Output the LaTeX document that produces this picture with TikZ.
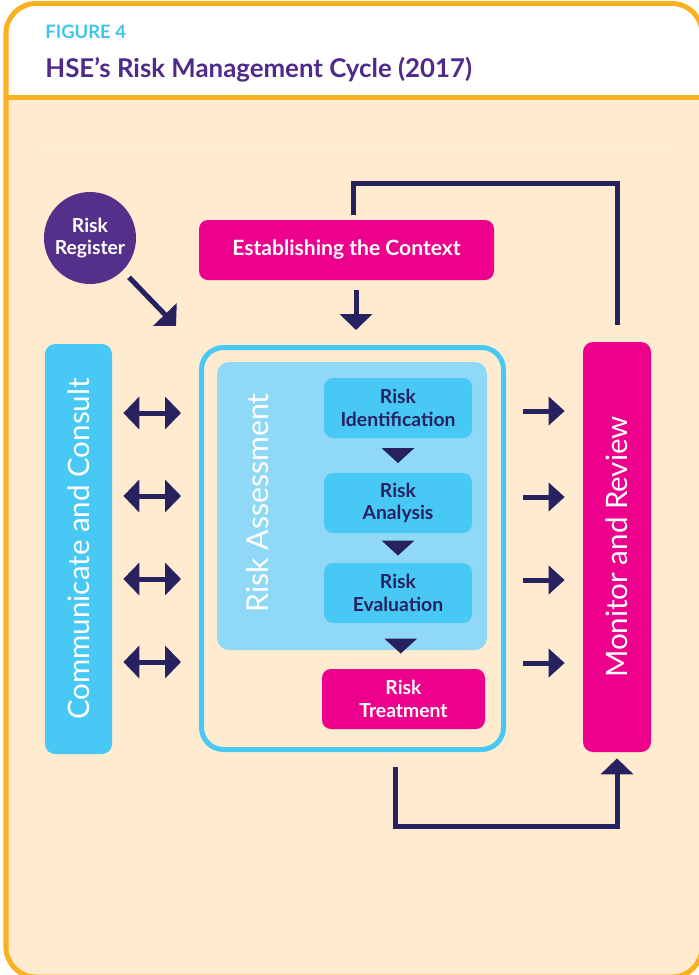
\documentclass[tikz,border=0pt]{standalone}
\usepackage{fontspec}
\setmainfont{Lato}
\usetikzlibrary{arrows.meta,calc,positioning}
\definecolor{frameorange}{HTML}{FBB01F}
\definecolor{cream}{HTML}{FFEBD0}
\definecolor{hsecyan}{HTML}{48C9F5}
\definecolor{hselight}{HTML}{8FD9F7}
\definecolor{hsemagenta}{HTML}{EC008C}
\definecolor{hsepurple}{HTML}{54308B}
\definecolor{hsenavy}{HTML}{27215F}
\definecolor{titlepurple}{HTML}{4F2A8A}
\definecolor{figcyan}{HTML}{3FC5F0}
\newdimen\pxu \pxu=0.02cm

\begin{document}
\begin{tikzpicture}[line cap=butt,line join=miter,x=0.02cm,y=-0.02cm,
  box/.style={rounded corners=9\pxu, inner sep=0pt, align=center,
    font=\bfseries\fontsize{11}{13}\selectfont},
  stepbox/.style={box, fill=hsecyan, text=hsenavy, minimum width=148\pxu, minimum height=60\pxu},
  pinkbox/.style={box, fill=hsemagenta, text=white},
  sidebar/.style={rounded corners=10\pxu, inner sep=0pt, text=white, rotate=90,
    minimum width=410\pxu, font=\fontsize{16.8}{18}\selectfont},
  lnk/.style={draw=hsenavy, line width=0.1cm},
  arr/.style={lnk, -{Triangle[width=0.64cm,length=0.32cm]}},
  rarr/.style={lnk, -{Triangle[width=0.56cm,length=0.32cm]}},
  dbl/.style={lnk, {Triangle[width=0.64cm,length=0.32cm]}-{Triangle[width=0.64cm,length=0.32cm]}}]
\useasboundingbox (0,0) rectangle (698,975);

% frame and header
\fill[cream, rounded corners=30\pxu] (6,3.5) rectangle (702,977);
\fill[white, rounded corners=30\pxu] (6,3.5) rectangle (702,150);
\fill[cream] (6,97.5) rectangle (702,150);
\draw[frameorange, line width=5\pxu, rounded corners=30\pxu] (6,3.5) rectangle (702,977);
\draw[frameorange, line width=5\pxu] (6,97.5) -- (702,97.5);
\node[anchor=base west, inner sep=0pt, text=figcyan, font=\bfseries\fontsize{10.5}{12}\selectfont] (fig) at (45,38) {FIGURE 4};
\node[anchor=base west, inner sep=0pt, text=titlepurple, font=\bfseries\fontsize{14.7}{16}\selectfont] (title) at (45,77) {HSE’s Risk Management Cycle (2017)};

% boxes
\node[circle, fill=hsepurple, text=white, minimum size=92\pxu, inner sep=0pt, align=center,
  font=\bfseries\fontsize{11}{13}\selectfont] (reg) at (90,238) {Risk\\Register};
\node[pinkbox, minimum width=295\pxu, minimum height=60\pxu, font=\bfseries\fontsize{12}{14}\selectfont] (ctx) at (346.5,250) {Establishing the Context};
\node[sidebar, fill=hsecyan, minimum height=67\pxu] (comm) at (78.5,549) {Communicate and Consult};
\node[sidebar, fill=hsemagenta, minimum height=68\pxu] (mon) at (617,547) {Monitor and Review};
\node[draw=hsecyan, line width=5\pxu, rounded corners=22\pxu, minimum width=302\pxu,
  minimum height=402\pxu, inner sep=0pt] (ra) at (352.5,548.5) {};
\node[fill=hselight, rounded corners=12\pxu, minimum width=270\pxu, minimum height=288\pxu,
  inner sep=0pt] (rain) at (352,506) {};
\node[rotate=90, text=white, inner sep=0pt, font=\fontsize{17.2}{18}\selectfont] (ras) at (257,503) {Risk Assessment};
\node[stepbox] (rid) at (398,408) {Risk\\Identification};
\node[stepbox] (ran) at (398,503) {Risk\\Analysis};
\node[stepbox] (rev) at (398,593) {Risk\\Evaluation};
\node[pinkbox, minimum width=163\pxu, minimum height=60\pxu] (rtr) at (403.5,699) {Risk\\Treatment};

% connectors
\coordinate (regtip) at (176,326);
\coordinate (ctxtip) at (356,330);
\coordinate (topl) at (353,215);
\coordinate (topr) at (617,183);
\coordinate (botl) at (395,826);
\coordinate (botr) at (617,826);
\draw[arr, shorten <=0.18cm] (reg.-45) -- (regtip);
\draw[arr] (ctxtip |- ctx.south) ++(0,10) -- (ctxtip);
\draw[lnk, shorten >=0.34cm] (topl) |- (topr) -- (mon.east);
\draw[arr, shorten <=0.3cm, shorten >=0.12cm] (botl |- ra.south) -- (botl) -- (botr) -- (mon.west);
\foreach \y in {413,496,579,662} {
  \coordinate (lev) at (0,\y);
  \draw[dbl, shorten <=0.22cm, shorten >=0.36cm] (comm.south |- lev) -- (ra.west |- lev);
}
\foreach \y in {411,497,580,663} {
  \coordinate (lev) at (0,\y);
  \draw[rarr, shorten <=0.34cm, shorten >=0.36cm] (ra.east |- lev) -- (mon.north |- lev);
}
\foreach \a/\b in {rid/ran,ran/rev,rev/rtr}
  \fill[hsenavy] ($(\a.south)!.5!(\b.north)$) ++(-16.5,-7.5) -- ++(33,0) -- ++(-16.5,15) -- cycle;
\end{tikzpicture}
\end{document}
